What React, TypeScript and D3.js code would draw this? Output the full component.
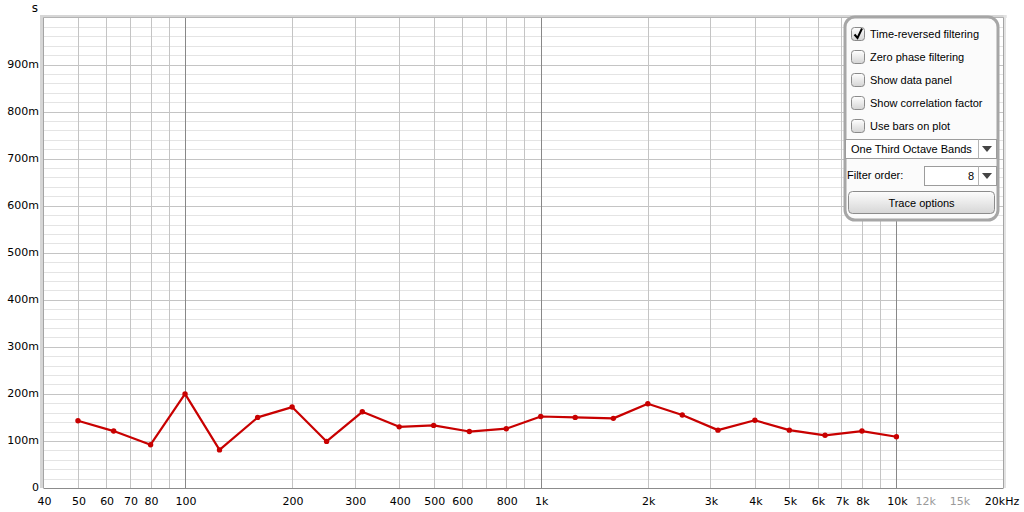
import * as d3 from 'd3'

// ── data ────────────────────────────────────────────────────────────────────
const bandsHz = [50, 63, 80, 100, 125, 160, 200, 250, 315, 400, 500, 630, 800,
  1000, 1250, 1600, 2000, 2500, 3150, 4000, 5000, 6300, 8000, 10000]
const decaySec = [0.143, 0.121, 0.092, 0.200, 0.081, 0.150, 0.172, 0.099, 0.162, 0.130, 0.133, 0.120, 0.126,
  0.152, 0.150, 0.148, 0.179, 0.155, 0.123, 0.144, 0.123, 0.112, 0.121, 0.109]

const xTickVals   = [40, 50, 60, 70, 80, 100, 200, 300, 400, 500, 600, 800, 1000, 2000, 3000, 4000, 5000, 6000, 7000, 8000, 10000, 12000, 15000, 20000]
const xTickLabels = ['40', '50', '60', '70', '80', '100', '200', '300', '400', '500', '600', '800', '1k', '2k', '3k', '4k', '5k', '6k', '7k', '8k', '10k', '12k', '15k', '20kHz']
const yTickVals   = [0, 0.1, 0.2, 0.3, 0.4, 0.5, 0.6, 0.7, 0.8, 0.9]
const yTickLabels = ['0', '100m', '200m', '300m', '400m', '500m', '600m', '700m', '800m', '900m']

const optionLabels  = ['Time-reversed filtering', 'Zero phase filtering', 'Show data panel', 'Show correlation factor', 'Use bars on plot']
const optionChecked = [true, false, false, false, false]

// ── layout ──────────────────────────────────────────────────────────────────
const W = 1024, H = 512
const M = { left: 43.5, right: 1003.5, top: 17.5, bottom: 488 }
const RED   = '#c80000'
const FONT  = '"DejaVu Sans", sans-serif'
const PFONT = '"Liberation Sans", Arial, sans-serif'

export default function App() {
  const x = d3.scaleLog().domain([40, 20000]).range([M.left, M.right])
  const y = d3.scaleLinear().domain([0, 1]).range([M.bottom, M.top])

  // vertical grid: every integer multiple inside each decade
  const vGrid: { f: number; kind: 'major' | 'minor' | 'faint' }[] = []
  for (const dec of [10, 100, 1000, 10000]) {
    for (let k = 1; k <= 9; k++) {
      const f = dec * k
      if (f <= 40 || f >= 20000) continue
      const kind = k === 1 ? 'major' : f > 10000 ? 'faint' : 'minor'
      vGrid.push({ f, kind })
    }
  }
  const hMinor = d3.range(1, 50).map(i => i * 0.02).filter(v => Math.round(v * 50) % 5 !== 0)
  const hMajor = d3.range(1, 10).map(i => i * 0.1)

  const line = d3.line<number>()
    .x((_, i) => x(bandsHz[i]))
    .y(d => y(d))

  const rowY = (i: number) => 34 + i * 23

  return (
    <svg width={W} height={H} style={{ position: 'absolute', left: 0, top: 0, background: '#fff' }}>
      <defs>
        <linearGradient id="cb" x1="0" y1="0" x2="0" y2="1">
          <stop offset="0" stopColor="#ffffff" />
          <stop offset="1" stopColor="#d4d4d4" />
        </linearGradient>
        <linearGradient id="btn" x1="0" y1="0" x2="0" y2="1">
          <stop offset="0" stopColor="#fdfdfd" />
          <stop offset="1" stopColor="#d6d6d6" />
        </linearGradient>
      </defs>

      {/* plot background + frame bevel */}
      <rect x={M.left} y={M.top} width={M.right - M.left} height={M.bottom - M.top} fill="#fff" />
      <rect x={40} y={15} width={3} height={M.bottom - 15} fill="#d6d6d6" />
      <rect x={40} y={15} width={M.right - 40 + 3} height={3} fill="#d6d6d6" />
      <rect x={M.right} y={15} width={2.5} height={M.bottom - 15} fill="#e2e2e2" />

      {/* horizontal grid */}
      {hMinor.map(v => (
        <line key={'hm' + v} x1={M.left} x2={M.right} y1={Math.round(y(v)) + 0.5} y2={Math.round(y(v)) + 0.5} stroke="#e4e4e4" />
      ))}
      {hMajor.map(v => (
        <line key={'hM' + v} x1={M.left} x2={M.right} y1={Math.round(y(v)) + 0.5} y2={Math.round(y(v)) + 0.5} stroke="#c4c4c4" />
      ))}

      {/* vertical grid */}
      {vGrid.map(({ f, kind }) => (
        <line key={'v' + f}
          x1={Math.round(x(f)) + 0.5} x2={Math.round(x(f)) + 0.5} y1={M.top} y2={M.bottom}
          stroke={kind === 'major' ? '#888' : kind === 'minor' ? '#c4c4c4' : '#e2e2e2'} />
      ))}

      {/* frame lines */}
      <line x1={M.left} x2={M.left} y1={M.top} y2={M.bottom} stroke="#a4a4a4" />
      <line x1={M.left} x2={M.right} y1={M.top} y2={M.top} stroke="#b4b4b4" />
      <line x1={M.right} x2={M.right} y1={M.top} y2={M.bottom} stroke="#a4a4a4" />
      <line x1={M.left} x2={M.right} y1={M.bottom + 0.5} y2={M.bottom + 0.5} stroke="#8c8c8c" />

      {/* y axis labels */}
      <text x={35} y={8.5} fontFamily={FONT} fontSize={12} textAnchor="middle" dominantBaseline="middle" fill="#000">s</text>
      {yTickVals.map((v, i) => (
        <text key={'yl' + v} x={39} y={y(v)} fontFamily={FONT} fontSize={11} textAnchor="end" dominantBaseline="middle" fill="#000">
          {yTickLabels[i]}
        </text>
      ))}

      {/* x axis labels */}
      {xTickVals.map((f, i) => (
        <text key={'xl' + f} x={f === 20000 ? x(f) - 1.5 : x(f) + 1} y={505} fontFamily={FONT} fontSize={11} textAnchor="middle"
          fill={f === 12000 || f === 15000 ? '#9a9a9a' : '#000'}>
          {xTickLabels[i]}
        </text>
      ))}

      {/* data */}
      <path d={line(decaySec) ?? ''} fill="none" stroke={RED} strokeWidth={2.2} strokeLinejoin="round" />
      {decaySec.map((v, i) => (
        <circle key={'p' + i} cx={x(bandsHz[i])} cy={y(v)} r={2.7} fill={RED} />
      ))}

      {/* options panel */}
      <rect x={845} y={17} width={153} height={203} rx={10} fill="#fbfbfb" stroke="#a6a6a6" strokeWidth={3} />
      {optionLabels.map((lab, i) => (
        <g key={lab}>
          <rect x={851.5} y={rowY(i) - 6.5} width={13} height={13} rx={3} fill="url(#cb)" stroke="#8a8a8a" />
          {optionChecked[i] && (
            <path d={`M${854.5},${rowY(i) + 0.5} L${857.5},${rowY(i) + 4} L${862},${rowY(i) - 5.5}`}
              fill="none" stroke="#000" strokeWidth={2} />
          )}
          <text x={870} y={rowY(i) + 1.5} fontFamily={PFONT} fontSize={11} dominantBaseline="middle" fill="#000">{lab}</text>
        </g>
      ))}

      {/* band selector */}
      <rect x={845.5} y={139.5} width={151} height={19} fill="#fff" stroke="#9c9c9c" />
      <line x1={978.5} x2={978.5} y1={139.5} y2={158.5} stroke="#b4b4b4" />
      <path d="M982,146 L992,146 L987,152 Z" fill="#444" />
      <text x={851} y={150.5} fontFamily={PFONT} fontSize={11} dominantBaseline="middle" fill="#000">One Third Octave Bands</text>

      {/* filter order */}
      <text x={847} y={176.5} fontFamily={PFONT} fontSize={11} dominantBaseline="middle" fill="#000">Filter order:</text>
      <rect x={924.5} y={166.5} width={72} height={19} fill="#fff" stroke="#9c9c9c" />
      <line x1={978.5} x2={978.5} y1={166.5} y2={185.5} stroke="#b4b4b4" />
      <path d="M982,173 L992,173 L987,179 Z" fill="#444" />
      <text x={974} y={177} fontFamily={PFONT} fontSize={11} textAnchor="end" dominantBaseline="middle" fill="#000">8</text>

      {/* trace options button */}
      <rect x={848.5} y={191.5} width={146} height={22} rx={4} fill="url(#btn)" stroke="#8c8c8c" />
      <text x={921.5} y={204} fontFamily={PFONT} fontSize={11} textAnchor="middle" dominantBaseline="middle" fill="#000">Trace options</text>
    </svg>
  )
}
